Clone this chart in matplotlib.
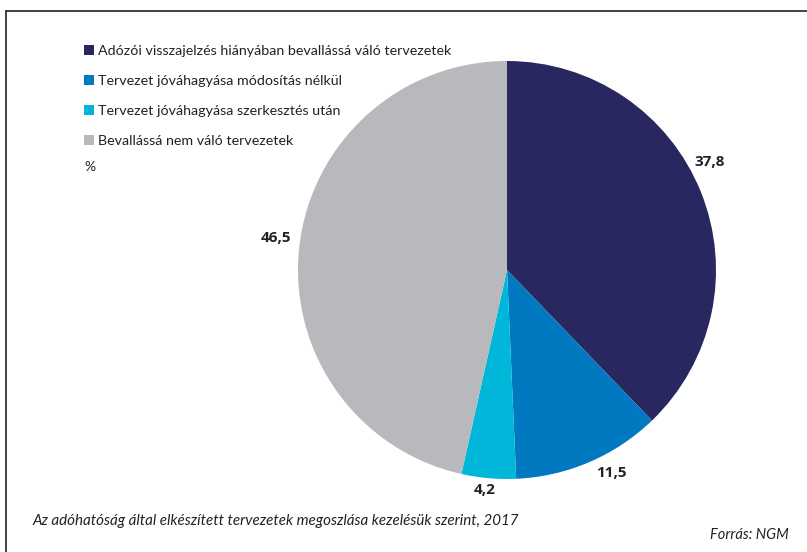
import matplotlib
matplotlib.use('Agg')
import matplotlib.pyplot as plt
from matplotlib.lines import Line2D
import numpy as np

categories = ['Adózói visszajelzés hiányában bevallássá váló tervezetek',
              'Tervezet jóváhagyása módosítás nélkül',
              'Tervezet jóváhagyása szerkesztés után',
              'Bevallássá nem váló tervezetek']
values = [37.8, 11.5, 4.2, 46.5]
value_labels = ['37,8', '11,5', '4,2', '46,5']
colors = ['#29275f', '#0079c1', '#00b7da', '#b8b9bd']

W, H = 807, 552
fig = plt.figure(figsize=(W / 100, H / 100), dpi=100)
plt.rcParams['font.family'] = ['Lato', 'DejaVu Sans']

# pie axes: centre (507, 270) px, radius 209 px
cx, cy, r = 507, 270, 209
ax = fig.add_axes([(cx - r) / W, 1 - (cy + r) / H, 2 * r / W, 2 * r / H])
wedges, _ = ax.pie(values, colors=colors, startangle=90, counterclock=False,
                   radius=1, wedgeprops=dict(linewidth=0))
ax.set_xlim(-1, 1)
ax.set_ylim(-1, 1)
ax.set_aspect('equal')
ax.axis('off')

# value labels
label_dist = [1.10, 1.09, 1.06, 1.116]
label_shift = [6.1, 4, -0.7, -1.6]  # degrees
for w, txt, d, s in zip(wedges, value_labels, label_dist, label_shift):
    ang = np.deg2rad((w.theta1 + w.theta2) / 2 + s)
    ax.text(d * np.cos(ang), d * np.sin(ang), txt, ha='center', va='center',
            fontsize=11, fontweight='bold', color='#222222',
            family=['Open Sans', 'DejaVu Sans'])

# legend
leg = fig.legend(wedges, categories, loc='upper left',
                 bbox_to_anchor=(71 / W, 1 - 32 / H), frameon=False,
                 handlelength=0.7, handleheight=0.7, handletextpad=0.3,
                 labelspacing=1.27, fontsize=10.3, labelcolor='#222222')
fig.text(84 / W, 1 - 167 / H, '%', fontsize=10, color='#222222',
         va='center', ha='left')

# caption and source
fig.text(33 / W, 1 - 521 / H,
         'Az adóhatóság által elkészített tervezetek megoszlása kezelésük szerint, 2017',
         fontsize=10.9, style='italic', color='#222222', va='center', ha='left')
fig.text(789 / W, 1 - 535 / H, 'Forrás: NGM', fontsize=10.5, style='italic',
         color='#222222', va='center', ha='right')

# frame lines (top and left)
fig.add_artist(Line2D([6 / W, 1], [1 - 11 / H, 1 - 11 / H], color='#333333',
                      linewidth=1.3, transform=fig.transFigure))
fig.add_artist(Line2D([6 / W, 6 / W], [1 - 11 / H, 0], color='#333333',
                      linewidth=1.3, transform=fig.transFigure))

fig.savefig('out.png', dpi=100)
